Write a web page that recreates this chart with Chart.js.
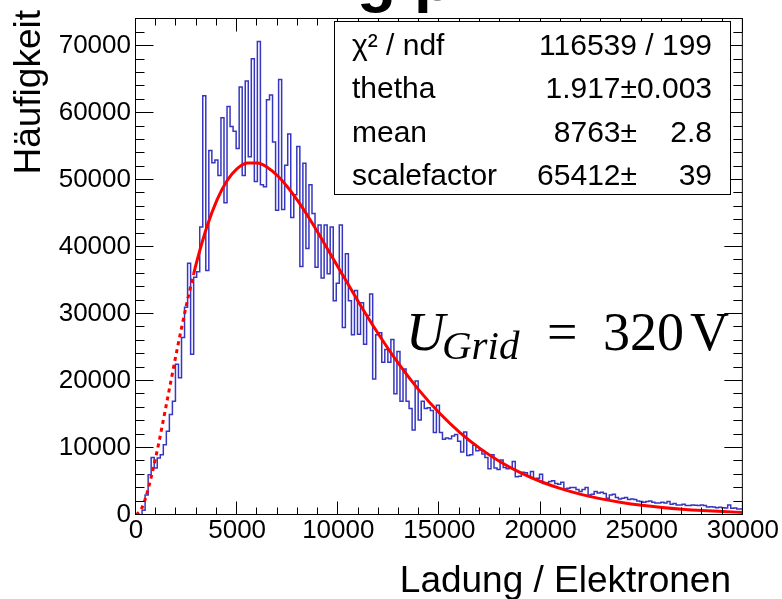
<!DOCTYPE html>
<html><head><meta charset="utf-8">
<script src="https://cdn.jsdelivr.net/npm/chart.js@4.4.1/dist/chart.umd.min.js"></script>
<style>html,body{margin:0;padding:0;background:#fff;overflow:hidden}canvas{display:block}</style>
</head><body>
<canvas id="c" width="782" height="599"></canvas>
<script>
// ---- data ----
const binWidth = 150;           // 200 bins from 0 to 30000
const counts = [
  0, 0, 0, 700, 3000, 6000, 8600, 7000, 8500, 9000,
  10500, 12500, 15000, 17000, 22500, 20500, 26500, 31000, 37600, 24000,
  35500, 36300, 43000, 62600, 36500, 54400, 52600, 53000, 50700, 59300,
  46600, 61000, 58000, 57300, 54700, 63900, 50700, 64800, 53500, 68100,
  49800, 70700, 49300, 49000, 62000, 62700, 55700, 45500, 65000, 45600,
  52200, 56900, 44400, 47800, 55000, 37100, 52500, 39800, 49300, 45000,
  37000, 43300, 35400, 43300, 36000, 43000, 32000, 34600, 43300, 28000,
  39000, 32000, 26900, 33500, 27000, 31700, 25500, 29800, 33000, 20300,
  26900, 27200, 22800, 24700, 22800, 26200, 18100, 24400, 17000, 21800,
  17000, 15900, 12700, 20000, 14200, 17000, 15900, 16000, 15600, 12300,
  16400, 12300, 11300, 11500, 11400, 11800, 12000, 11000, 9400, 12400,
  8900, 9000, 10400, 9600, 9700, 9100, 8600, 6900, 9000, 7000,
  6800, 8200, 7100, 6900, 7000, 8000, 5700, 5800, 6400, 6300,
  5800, 6500, 5400, 5500, 6100, 4700, 4800, 5000, 5100, 4700,
  4600, 4900, 3900, 4000, 4100, 4100, 3800, 3500, 3800, 4100,
  3000, 3100, 3500, 3300, 3400, 3200, 2500, 3000, 3100, 2600,
  2400, 2500, 2600, 2300, 2400, 2300, 2100, 2000, 1900, 2000,
  2100, 1900, 1800, 1800, 1900, 1800, 2000, 1600, 1700, 1500,
  1500, 1600, 1400, 1400, 1500, 1450, 1400, 1500, 1400, 1200,
  1250, 1200, 1100, 1150, 1100, 1050, 1500, 1000, 1050, 900
];
const fitX = [0, 250, 500, 1000, 1500, 2000, 2500, 2850, 3000, 3500, 4000, 4500, 5000, 5500, 6000, 6500, 7000, 7500, 8000, 8500, 9000, 9500, 10000, 11000, 12000, 13000, 14000, 15000, 16000, 17000, 18000, 19000, 20000, 21000, 22000, 23000, 24000, 25000, 26000, 27000, 28000, 29000, 30000];
const fitY = [0, 805, 2799, 8950, 16488, 24234, 31464, 36010, 37792, 42998, 47022, 49898, 51703, 52551, 52570, 51891, 50641, 48940, 46892, 44597, 42133, 39557, 36966, 31806, 26944, 22518, 18603, 15223, 12349, 9945, 7955, 6324, 5001, 3938, 3086, 2409, 1874, 1452, 1123, 865, 665, 510, 390];
const fitRangeStart = 2850;
const xTickValues = [0, 5000, 10000, 15000, 20000, 25000, 30000];
const yTickValues = [0, 10000, 20000, 30000, 40000, 50000, 60000, 70000];
const statsNames = ['χ² / ndf', 'thetha', 'mean', 'scalefactor'];
const statsValues = ['116539 / 199', '1.917', '8763', '65412'];
const statsErrors = [null, '0.003', '2.8', '39'];
const xTitle = 'Ladung / Elektronen';
const yTitle = 'Häufigkeit';

// ---- build datasets ----
const histPts = counts.map((v, i) => ({x: i * binWidth, y: v}));
histPts.push({x: counts.length * binWidth, y: counts[counts.length - 1]});
const fitPts = fitX.map((x, i) => ({x: x, y: fitY[i]}));
const fitSolid = fitPts.filter(p => p.x >= fitRangeStart);
const fitDotted = fitPts.filter(p => p.x <= fitRangeStart);

const FONT = "'Liberation Sans', Arial, Helvetica, sans-serif";
const SERIF = "'Liberation Serif', 'Times New Roman', serif";

const decor = {
  id: 'decor',
  afterDraw(chart) {
    const ctx = chart.ctx, a = chart.chartArea, xs = chart.scales.x, ys = chart.scales.y;
    ctx.save();
    const L = a.left - 0.5, R = a.right - 0.5, T = a.top + 0.5, B = a.bottom - 0.5;
    ctx.strokeStyle = '#000'; ctx.lineWidth = 1;
    ctx.strokeRect(L, T, R - L, B - T);
    ctx.beginPath();
    for (let v = 0; v <= xs.max; v += 1000) {
      const px = Math.round(xs.getPixelForValue(v)) - 0.5;
      const len = (v % 5000 === 0) ? 13 : 7;
      ctx.moveTo(px, B); ctx.lineTo(px, B - len);
      ctx.moveTo(px, T); ctx.lineTo(px, T + len);
    }
    for (let v = 0; v <= ys.max; v += 2000) {
      const py = Math.round(ys.getPixelForValue(v)) - 0.5;
      const len = (v % 10000 === 0) ? 18 : 9;
      ctx.moveTo(L, py); ctx.lineTo(L + len, py);
      ctx.moveTo(R, py); ctx.lineTo(R - len, py);
    }
    ctx.stroke();

    // stats box
    ctx.fillStyle = '#fff';
    ctx.fillRect(334, 21, 396, 173);
    ctx.strokeRect(334.5, 21.5, 396, 173);
    ctx.fillStyle = '#000';
    ctx.font = '30px ' + FONT;
    ctx.textBaseline = 'alphabetic';
    for (let i = 0; i < statsNames.length; i++) {
      const y = 55 + i * 43.3;
      ctx.textAlign = 'left';
      ctx.fillText(statsNames[i], 352, y);
      ctx.textAlign = 'right';
      if (statsErrors[i] === null) {
        ctx.fillText(statsValues[i], 712, y);
      } else {
        ctx.fillText(statsValues[i] + '±', 637, y);
        ctx.fillText(statsErrors[i], 712, y);
      }
    }

    // U_Grid annotation
    ctx.textAlign = 'left';
    ctx.font = 'italic 54px ' + SERIF;
    ctx.fillText('U', 406, 350);
    ctx.font = 'italic 41px ' + SERIF;
    ctx.fillText('Grid', 442, 359);
    ctx.font = '54px ' + SERIF;
    ctx.fillText('=', 547, 350);
    ctx.fillText('320', 603, 350);
    ctx.fillText('V', 690, 350);

    // axis titles
    ctx.font = '37px ' + FONT;
    ctx.textAlign = 'right';
    ctx.fillText(xTitle, 731, 592);
    ctx.save();
    ctx.translate(40, 10);
    ctx.rotate(-Math.PI / 2);
    ctx.font = '37px ' + FONT;
    ctx.textAlign = 'right';
    ctx.fillText(yTitle, 0, 0);
    ctx.restore();

    // top title, mostly cut off
    ctx.font = 'bold 64px ' + FONT;
    ctx.textAlign = 'left';
    ctx.fillText('g', 357, 0);
    ctx.fillText('p', 414, 0);
    ctx.restore();
  }
};

new Chart(document.getElementById('c'), {
  type: 'line',
  data: {
    datasets: [
      {data: fitSolid, borderColor: '#ff0000', borderWidth: 3, pointRadius: 0, fill: false,
       cubicInterpolationMode: 'monotone'},
      {data: fitDotted, borderColor: '#ff0000', borderWidth: 3, pointRadius: 0, fill: false,
       cubicInterpolationMode: 'monotone', borderDash: [4, 4]},
      {data: histPts, borderColor: '#3636c0', borderWidth: 1.5, pointRadius: 0, fill: false,
       stepped: 'after'}
    ]
  },
  options: {
    responsive: false, animation: false, devicePixelRatio: 1,
    layout: {padding: {top: 8, right: 36, bottom: 0, left: 0}},
    plugins: {legend: {display: false}, tooltip: {enabled: false}, title: {display: false}},
    scales: {
      x: {
        type: 'linear', min: 0, max: 30000,
        grid: {display: false, drawTicks: false}, border: {display: false},
        afterBuildTicks: s => { s.ticks = xTickValues.map(v => ({value: v})); },
        afterFit: s => { s.height = 84; },
        ticks: {color: '#000', padding: 3, maxRotation: 0, autoSkip: false,
                font: {family: FONT, size: 26, lineHeight: 1},
                callback: v => String(v)}
      },
      y: {
        type: 'linear', min: 0, max: 74200,
        grid: {display: false, drawTicks: false}, border: {display: false},
        afterBuildTicks: s => { s.ticks = yTickValues.map(v => ({value: v})); },
        afterFit: s => { s.width = 136; },
        ticks: {color: '#000', padding: 5, autoSkip: false,
                font: {family: FONT, size: 26, lineHeight: 1},
                callback: v => String(v)}
      }
    }
  },
  plugins: [decor]
});
</script>
</body></html>
